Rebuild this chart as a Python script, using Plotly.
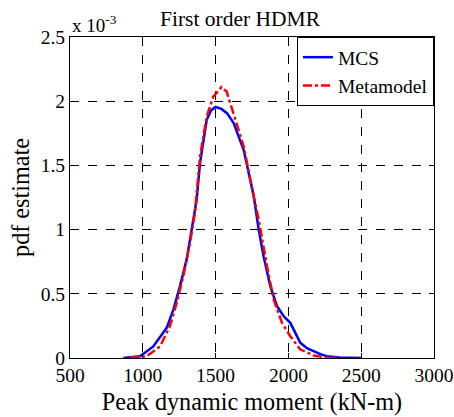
import plotly.graph_objects as go

# MCS pdf estimate (values in units of 1e-3)
mcs_x = [866, 981, 1072, 1164, 1210, 1255, 1301, 1336, 1370, 1393, 1439, 1470, 1500,
         1540, 1578, 1624, 1693, 1762, 1796, 1830, 1876, 1922, 1968, 2013, 2050, 2082,
         2130, 2174, 2220, 2265, 2350, 2505]
mcs_y = [0.0, 0.014, 0.09, 0.235, 0.377, 0.558, 0.766, 1.0, 1.233, 1.518, 1.855, 1.93, 1.955,
         1.94, 1.907, 1.83, 1.62, 1.26, 1.0, 0.79, 0.558, 0.403, 0.325, 0.274, 0.19, 0.118,
         0.075, 0.053, 0.03, 0.014, 0.003, 0.0]

# Metamodel pdf estimate (values in units of 1e-3)
meta_x = [912, 1027, 1118, 1187, 1233, 1278, 1324, 1358, 1393, 1439, 1484, 1541, 1576,
          1624, 1693, 1762, 1796, 1853, 1899, 1956, 2013, 2082, 2174, 2250, 2334]
meta_y = [0.0, 0.014, 0.09, 0.25, 0.43, 0.636, 0.896, 1.13, 1.57, 1.88, 2.036, 2.11, 2.075,
          1.907, 1.647, 1.258, 1.077, 0.714, 0.455, 0.274, 0.17, 0.066, 0.02, 0.005, 0.0]

x_ticks = [500, 1000, 1500, 2000, 2500, 3000]
y_ticks = [0, 0.5, 1, 1.5, 2, 2.5]
y_ticklabels = ["0", "0.5", "1", "1.5", "2", "2.5"]

FONT = "Liberation Serif, Times New Roman, serif"

fig = go.Figure()
fig.add_trace(go.Scatter(x=mcs_x, y=mcs_y, mode="lines", name="MCS",
                         line=dict(color="#0000ff", width=2.5)))
fig.add_trace(go.Scatter(x=meta_x, y=meta_y, mode="lines", name="Metamodel",
                         line=dict(color="#ff0000", width=2.5, dash="dashdot")))

axis_common = dict(showline=True, linecolor="black", linewidth=1, mirror="ticks",
                   ticks="inside", ticklen=5, tickcolor="black", automargin=False,
                   showgrid=True, gridcolor="black", gridwidth=1, griddash="dash",
                   zeroline=False, tickfont=dict(family=FONT, size=19.5, color="black"))

W, H = 454, 417
fig.update_layout(
    width=W, height=H,
    margin=dict(l=70, r=20, t=37, b=58.5),
    paper_bgcolor="white", plot_bgcolor="white",
    font=dict(family=FONT, color="black"),
    title=dict(text="First order HDMR", x=240 / W, xanchor="center", y=1 - 18 / H, yanchor="middle",
               font=dict(family=FONT, size=21.5, color="black")),
    xaxis=dict(range=[500, 3000], tickvals=x_ticks,
               title=dict(text="Peak dynamic moment (kN-m)", font=dict(family=FONT, size=24.2), standoff=7),
               **axis_common),
    yaxis=dict(range=[0, 2.5], tickvals=y_ticks, ticktext=y_ticklabels,
               title=dict(text="pdf estimate", font=dict(family=FONT, size=24.2), standoff=4),
               **axis_common),
    legend=dict(x=1, y=1, xanchor="right", yanchor="top", bgcolor="white",
                bordercolor="black", borderwidth=1, tracegroupgap=0,
                font=dict(family=FONT, size=19.5, color="black")),
    showlegend=True,
)

fig.add_annotation(text="x 10<sup>-3</sup>", x=0, y=1, xref="paper", yref="paper",
                   xanchor="left", yanchor="bottom", showarrow=False, yshift=-1,
                   font=dict(family=FONT, size=19, color="black"))

fig.write_html("out.html",
               config={"displayModeBar": False},
               post_script="document.body.style.margin='0';document.body.style.overflow='hidden';")
